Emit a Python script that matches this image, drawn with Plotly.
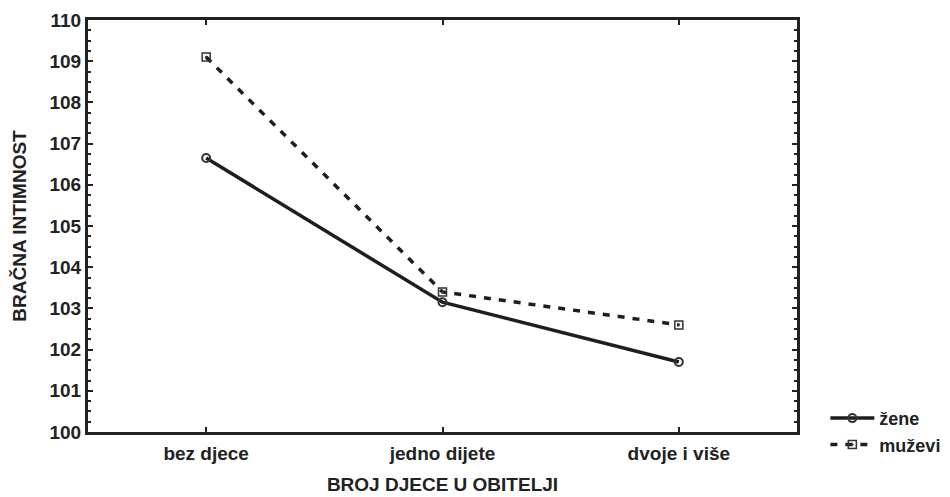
import plotly.graph_objects as go

categories = ["bez djece", "jedno dijete", "dvoje i više"]
zene = [106.65, 103.15, 101.7]
muzevi = [109.1, 103.4, 102.6]
y_ticks = [100, 101, 102, 103, 104, 105, 106, 107, 108, 109, 110]

FAM = "Liberation Sans, Arial, sans-serif"
font = dict(family=FAM, size=19, color="#222222")

fig = go.Figure()
fig.add_trace(go.Scatter(
    x=list(range(len(categories))), y=zene, name="<b>žene</b>", mode="lines+markers",
    line=dict(color="#1e1e1e", width=3.5),
    marker=dict(symbol="circle-open", size=8, color="#333333", line=dict(width=2))
))
fig.add_trace(go.Scatter(
    x=list(range(len(categories))), y=muzevi, name="<b>muževi</b>", mode="lines+markers",
    line=dict(color="#1e1e1e", width=3.5, dash="7px,8px"),
    marker=dict(symbol="square-open-dot", size=8, color="#333333", line=dict(width=1.5))
))

fig.update_layout(
    width=950, height=497,
    margin=dict(l=80, r=161, t=12, b=73, autoexpand=False),
    paper_bgcolor="white", plot_bgcolor="white",
    font=font,
    showlegend=True,
    legend=dict(x=1.04, y=-0.075, xanchor="left", yanchor="bottom",
                font=dict(family=FAM, size=18, color="#222222"),
                tracegroupgap=0, itemwidth=44),
    xaxis=dict(
        range=[-0.5, 2.5], automargin=False,
        tickmode="array", tickvals=list(range(len(categories))), ticktext=categories,
        ticks="inside", ticklen=5, tickwidth=2, tickcolor="#222",
        showline=True, linewidth=3, linecolor="#222", mirror="ticks",
        showgrid=False, zeroline=False,
        ticklabelstandoff=2,
        tickfont=dict(family=FAM, size=19, color="#222", weight="bold"),
        title=dict(text="<b>BROJ DJECE U OBITELJI</b>", standoff=15,
                   font=dict(family=FAM, size=19, color="#222")),
    ),
    yaxis=dict(
        range=[100, 110], automargin=False,
        tickmode="array", tickvals=y_ticks,
        ticks="inside", ticklen=5, tickwidth=2, tickcolor="#222",
        minor=dict(dtick=0.25, ticks="inside", ticklen=3, tickwidth=2, tickcolor="#222"),
        showline=True, linewidth=3, linecolor="#222", mirror="ticks",
        showgrid=False, zeroline=False,
        tickfont=dict(family=FAM, size=19, color="#222", weight="bold"),
        title=dict(text="<b>BRAČNA INTIMNOST</b>", standoff=18,
                   font=dict(family=FAM, size=19, color="#222")),
    ),
)

fig.write_html("out.html")
